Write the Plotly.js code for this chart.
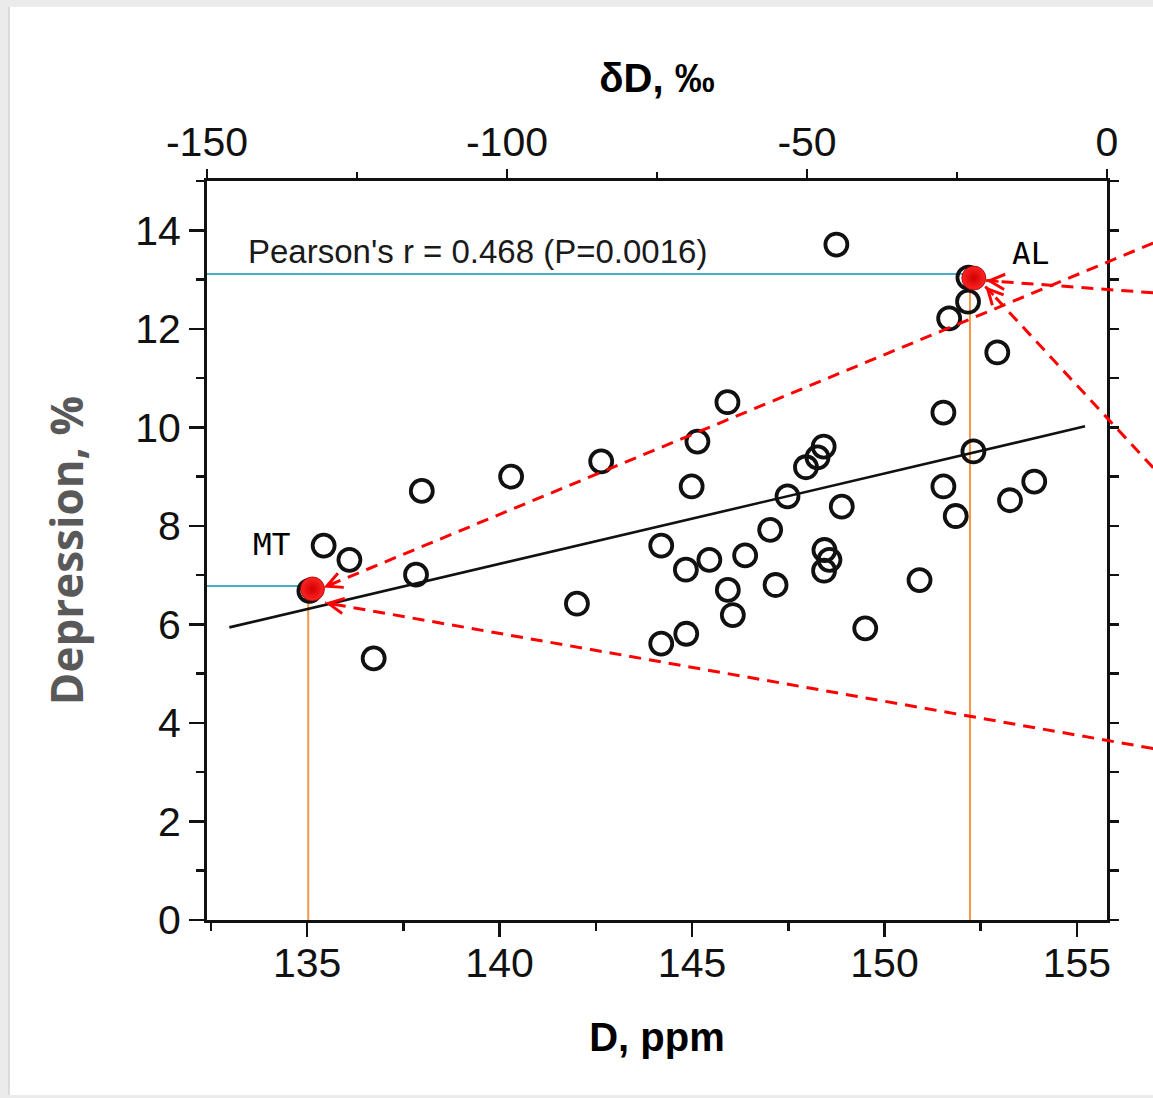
<!DOCTYPE html>
<html>
<head>
<meta charset="utf-8">
<script src="https://cdn.plot.ly/plotly-3.0.1.min.js"></script>
<style>
  html, body { margin: 0; padding: 0; background: #ffffff; }
  #chart { width: 1153px; height: 1098px; }
</style>
</head>
<body>
<div id="chart"></div>
<script>
// ---------------- data ----------------
// open circles: D concentration (ppm) vs depression prevalence (%)
const D_PPM = [135.43, 136.10, 136.73, 137.83, 137.98, 140.30, 142.01, 142.64, 144.20, 144.20,
               144.84, 144.85, 144.99, 145.14, 145.45, 145.92, 145.93, 146.06, 146.38, 147.03,
               147.17, 147.48, 147.96, 148.26, 148.42, 148.44, 148.57, 148.43, 148.75, 148.89,
               149.50, 150.91, 151.53, 151.53, 151.85, 152.31, 151.68, 152.17, 152.93, 153.26,
               153.89, 152.18, 135.06];
const DEPRESSION = [7.60, 7.31, 5.31, 7.01, 8.71, 9.00, 6.42, 9.31, 7.60, 5.61,
                    7.11, 5.81, 8.80, 9.71, 7.31, 10.51, 6.70, 6.19, 7.40, 7.92,
                    6.80, 8.60, 9.19, 9.39, 9.61, 7.51, 7.31, 7.09, 13.71, 8.39,
                    5.92, 6.90, 10.30, 8.80, 8.20, 9.51, 12.21, 12.55, 11.52, 8.52,
                    8.90, 13.04, 6.68];

// highlighted states
const HIGHLIGHT_NAMES = ['AL', 'MT'];
const HIGHLIGHT_X = [152.32, 135.14];
const HIGHLIGHT_Y = [13.03, 6.72];
const LABEL_X = [153.80, 134.08];
const LABEL_Y = [13.54, 7.64];

// regression line end points
const REG_X = [132.98, 155.21];
const REG_Y = [5.94, 10.02];

// reading guides (blue: to the y axis, orange: to the x axis)
const BLUE_X = [132.40, 152.05, null, 132.40, 134.83];
const BLUE_Y = [13.11, 13.11, null, 6.78, 6.78];
const ORANGE_X = [152.22, 152.22, null, 135.03, 135.03];
const ORANGE_Y = [0, 12.80, null, 0, 6.47];

// red dashed arrows coming from the right (tail -> tip)
const ARROW_TAIL_X = [156.98, 156.98, 156.98, 156.98];
const ARROW_TAIL_Y = [13.74, 12.73, 9.18, 3.48];
const ARROW_TIP_X = [135.43, 152.64, 152.62, 135.47];
const ARROW_TIP_Y = [6.75, 12.98, 12.86, 6.44];

// axes
const X_RANGE = [132.40, 155.78];
const Y_RANGE = [0, 15];
const TOP_RANGE = [-150, 0];
const BOTTOM_TICKS = [135, 140, 145, 150, 155];
const BOTTOM_TICK_LABELS = ['135', '140', '145', '150', '155'];
const BOTTOM_MINOR = [132.5, 137.5, 142.5, 147.5, 152.5];
const TOP_TICKS = [-150, -100, -50, 0];
const TOP_TICK_LABELS = ['-150', '-100', '-50', '0'];
const TOP_MINOR = [-125, -75, -25];
const LEFT_TICKS = [0, 2, 4, 6, 8, 10, 12, 14];
const LEFT_TICK_LABELS = ['0', '2', '4', '6', '8', '10', '12', '14'];
const LEFT_MINOR = [1, 3, 5, 7, 9, 11, 13, 15];
const RIGHT_TICKS = [0, 1, 2, 3, 4, 5, 6, 7, 8, 9, 10, 11, 12, 13, 14, 15];

const PEARSON_TEXT = "Pearson's r = 0.468 (P=0.0016)";
const PEARSON_POS = [133.42, 13.57];

// ---------------- layout geometry ----------------
const W = 1153, H = 1098;
const M = { l: 207, r: 0, t: 181, b: 178 };
const AREA_W = W - M.l - M.r;          // full width available right of the y axis
const AREA_H = H - M.t - M.b;
const MAIN_W = 900;                    // width of the framed plot
const DOM = MAIN_W / AREA_W;
const PX_PER_X = MAIN_W / (X_RANGE[1] - X_RANGE[0]);
const PX_PER_Y = AREA_H / (Y_RANGE[1] - Y_RANGE[0]);
const WIDE_RANGE = [X_RANGE[0], X_RANGE[0] + (X_RANGE[1] - X_RANGE[0]) / DOM];

const INK = '#111111';
const TICK_FONT = { family: 'Liberation Sans, Arial, sans-serif', size: 41, color: INK };

// dashed arrow shafts as one trace with gaps
const arrowX = [], arrowY = [];
for (let i = 0; i < ARROW_TIP_X.length; i++) {
  arrowX.push(ARROW_TAIL_X[i], ARROW_TIP_X[i], null);
  arrowY.push(ARROW_TAIL_Y[i], ARROW_TIP_Y[i], null);
}

const traces = [
  // empty carriers so the top and right frame axes get drawn
  { x: [TOP_RANGE[0]], y: [null], xaxis: 'x2', yaxis: 'y', mode: 'markers',
    marker: { opacity: 0 }, hoverinfo: 'skip', showlegend: false },
  { x: [null], y: [Y_RANGE[0]], xaxis: 'x', yaxis: 'y2', mode: 'markers',
    marker: { opacity: 0 }, hoverinfo: 'skip', showlegend: false },
  { x: BLUE_X, y: BLUE_Y, xaxis: 'x', yaxis: 'y', mode: 'lines', connectgaps: false,
    line: { color: '#4bacc6', width: 2 }, hoverinfo: 'skip', showlegend: false },
  { x: ORANGE_X, y: ORANGE_Y, xaxis: 'x', yaxis: 'y', mode: 'lines', connectgaps: false,
    line: { color: '#f79646', width: 2 }, hoverinfo: 'skip', showlegend: false },
  { x: REG_X, y: REG_Y, xaxis: 'x', yaxis: 'y', mode: 'lines',
    line: { color: INK, width: 2.6 }, hoverinfo: 'skip', showlegend: false },
  { x: D_PPM, y: DEPRESSION, xaxis: 'x', yaxis: 'y', mode: 'markers',
    marker: { symbol: 'circle-open', size: 22, color: INK, line: { width: 3.8 } },
    showlegend: false },
  { x: HIGHLIGHT_X, y: HIGHLIGHT_Y, xaxis: 'x', yaxis: 'y', mode: 'markers', text: HIGHLIGHT_NAMES,
    marker: { symbol: 'circle', size: 24, color: '#ff2424',
              gradient: { type: 'radial', color: '#d00000' },
              line: { color: '#9a0000', width: 0.8 } },
    showlegend: false },
  { x: arrowX, y: arrowY, xaxis: 'x3', yaxis: 'y', mode: 'lines', connectgaps: false,
    line: { color: '#ff0000', width: 3, dash: '12px,8px' }, hoverinfo: 'skip', showlegend: false }
];

// arrow heads (open V) at the tips, pointing along each dashed line
const HEAD_LEN = 14;
const annotations = [];
for (let i = 0; i < ARROW_TIP_X.length; i++) {
  const dx = (ARROW_TAIL_X[i] - ARROW_TIP_X[i]) * PX_PER_X;
  const dy = -(ARROW_TAIL_Y[i] - ARROW_TIP_Y[i]) * PX_PER_Y;
  const len = Math.sqrt(dx * dx + dy * dy);
  annotations.push({
    xref: 'x', yref: 'y', x: ARROW_TIP_X[i], y: ARROW_TIP_Y[i],
    ax: dx / len * HEAD_LEN, ay: dy / len * HEAD_LEN,
    text: '', showarrow: true, arrowhead: 5, arrowsize: 1.2, arrowwidth: 2.5,
    arrowcolor: '#ff0000', standoff: 0
  });
}
for (let i = 0; i < HIGHLIGHT_NAMES.length; i++) {
  annotations.push({
    xref: 'x', yref: 'y', x: LABEL_X[i], y: LABEL_Y[i], text: HIGHLIGHT_NAMES[i],
    showarrow: false, xanchor: 'center', yanchor: 'middle',
    font: { family: 'DejaVu Sans Mono, monospace', size: 31, color: '#000' }
  });
}
annotations.push({
  xref: 'x', yref: 'y', x: PEARSON_POS[0], y: PEARSON_POS[1], text: PEARSON_TEXT,
  showarrow: false, xanchor: 'left', yanchor: 'middle',
  font: { family: 'Liberation Sans, Arial, sans-serif', size: 33, color: '#1a1a1a' }
});

// slide frame (grey edges of the screenshot)
const px2paperX = p => (p - M.l) / AREA_W;
const px2paperY = p => (H - M.b - p) / AREA_H;
const shapes = [
  { type: 'rect', xref: 'paper', yref: 'paper', layer: 'below',
    x0: px2paperX(0), x1: px2paperX(W), y0: px2paperY(0), y1: px2paperY(7),
    fillcolor: '#ebebeb', line: { width: 0 } },
  { type: 'rect', xref: 'paper', yref: 'paper', layer: 'below',
    x0: px2paperX(0), x1: px2paperX(9), y0: px2paperY(0), y1: px2paperY(H),
    fillcolor: '#ebebeb', line: { width: 0 } },
  { type: 'rect', xref: 'paper', yref: 'paper', layer: 'below',
    x0: px2paperX(0), x1: px2paperX(W), y0: px2paperY(1095), y1: px2paperY(H),
    fillcolor: '#ebebeb', line: { width: 0 } },
  { type: 'line', xref: 'paper', yref: 'paper', layer: 'below',
    x0: px2paperX(9), x1: px2paperX(9), y0: px2paperY(7), y1: px2paperY(1095),
    line: { color: '#d2d2d2', width: 1.5 } }
];

const axisCommon = {
  showline: true, linewidth: 3, linecolor: INK, showgrid: false, zeroline: false,
  ticks: 'outside', tickcolor: INK, tickwidth: 2.5, tickfont: TICK_FONT, fixedrange: true
};

const layout = {
  width: W, height: H,
  margin: M,
  paper_bgcolor: '#ffffff',
  plot_bgcolor: 'rgba(0,0,0,0)',
  showlegend: false,
  xaxis: Object.assign({}, axisCommon, {
    domain: [0, DOM], range: X_RANGE, anchor: 'y', side: 'bottom',
    tickmode: 'array', tickvals: BOTTOM_TICKS, ticktext: BOTTOM_TICK_LABELS, ticklen: 14,
    ticklabelstandoff: -9,
    minor: { tickmode: 'array', tickvals: BOTTOM_MINOR, ticks: 'outside', ticklen: 8,
             tickwidth: 2.5, tickcolor: INK, showgrid: false },
    title: { text: 'D, ppm', standoff: 38,
             font: { family: 'Liberation Sans, Arial, sans-serif', size: 40, weight: 'bold', color: '#000' } }
  }),
  xaxis2: Object.assign({}, axisCommon, {
    domain: [0, DOM], range: TOP_RANGE, overlaying: 'x', anchor: 'y', side: 'top',
    tickmode: 'array', tickvals: TOP_TICKS, ticktext: TOP_TICK_LABELS, ticklen: 9,
    ticklabelstandoff: -3,
    minor: { tickmode: 'array', tickvals: TOP_MINOR, ticks: 'outside', ticklen: 6,
             tickwidth: 2.5, tickcolor: INK, showgrid: false },
    title: { text: 'δD, ‰', standoff: 14,
             font: { family: 'Liberation Sans, Arial, sans-serif', size: 40, weight: 'bold', color: '#000' } }
  }),
  xaxis3: { domain: [0, 1], range: WIDE_RANGE, anchor: 'y', visible: false, fixedrange: true },
  yaxis: Object.assign({}, axisCommon, {
    domain: [0, 1], range: Y_RANGE, anchor: 'x',
    tickmode: 'array', tickvals: LEFT_TICKS, ticktext: LEFT_TICK_LABELS, ticklen: 15,
    minor: { tickmode: 'array', tickvals: LEFT_MINOR, ticks: 'outside', ticklen: 8,
             tickwidth: 2.5, tickcolor: INK, showgrid: false },
    title: { text: 'Depression, %', standoff: 38,
             font: { family: 'Open Sans, sans-serif', size: 44, weight: 'bold', color: '#595959' } }
  }),
  yaxis2: Object.assign({}, axisCommon, {
    range: Y_RANGE, overlaying: 'y', anchor: 'x', side: 'right',
    tickmode: 'array', tickvals: RIGHT_TICKS, ticklen: 9, showticklabels: false
  }),
  annotations: annotations,
  shapes: shapes
};

Plotly.newPlot('chart', traces, layout, { displayModeBar: false, staticPlot: true });
</script>
</body>
</html>
